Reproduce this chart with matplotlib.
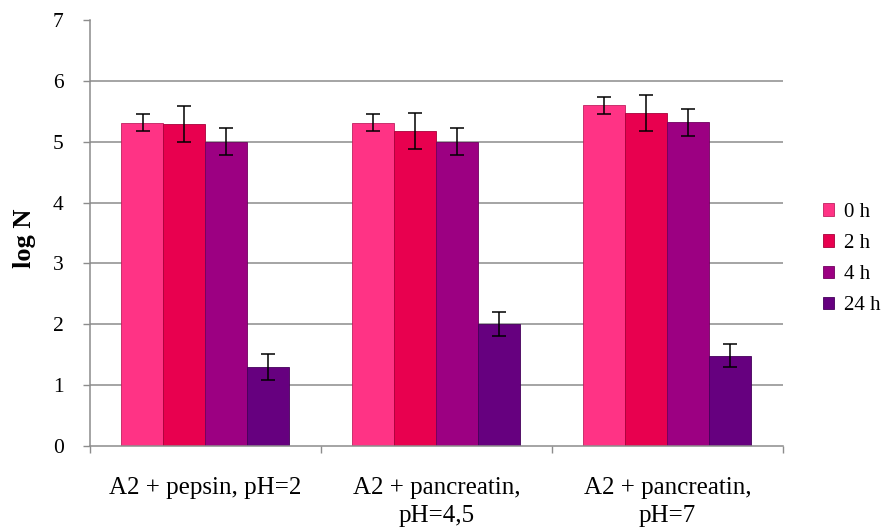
import matplotlib
matplotlib.use("Agg")
import matplotlib.pyplot as plt
import numpy as np

categories = ["A2 + pepsin, pH=2", "A2 + pancreatin,\npH=4,5", "A2 + pancreatin,\npH=7"]
series_names = ["0 h", "2 h", "4 h", "24 h"]
values = {
    "0 h": [5.31, 5.31, 5.60],
    "2 h": [5.29, 5.18, 5.47],
    "4 h": [5.00, 5.00, 5.32],
    "24 h": [1.30, 2.00, 1.48],
}
errors = {
    "0 h": [0.14, 0.14, 0.14],
    "2 h": [0.30, 0.30, 0.30],
    "4 h": [0.22, 0.22, 0.22],
    "24 h": [0.21, 0.20, 0.19],
}
colors = ["#FF3385", "#E8004F", "#9C0082", "#66007F"]
edges = ["#C0205F", "#A8003A", "#70005E", "#45005A"]
yticks = [0, 1, 2, 3, 4, 5, 6, 7]

plt.rcParams["font.family"] = ["Liberation Serif", "DejaVu Serif"]

fig = plt.figure(figsize=(8.92, 5.30), dpi=100)
ax = fig.add_axes([90/892, 1-446/530, (783-90)/892, (446-20)/530])

n = len(series_names)
gap = 1.5
w = 1.0 / (n + gap)
x = np.arange(len(categories))
for i, s in enumerate(series_names):
    pos = x - (n * w) / 2 + w * (i + 0.5)
    ax.bar(pos, values[s], width=w, color=colors[i], edgecolor=edges[i],
           linewidth=0.6, label=s, zorder=2)
    ax.errorbar(pos, values[s], yerr=errors[s], fmt="none", ecolor="black",
                elinewidth=1.1, capsize=5, capthick=1.1, zorder=3)

ax.set_xlim(-0.5, len(categories) - 0.5)
ax.set_ylim(0, 7)
ax.set_yticks(yticks)
ax.set_yticklabels([str(t) for t in yticks], fontsize=15.5)
for t in yticks[1:-1]:
    ax.axhline(t, color="#8c8c8c", linewidth=1.1, zorder=1)

ax.set_xticks(x)
ax.set_xticklabels(categories, fontsize=18, linespacing=1.4)
ax.tick_params(axis="x", which="major", length=0, pad=22)
ax.set_xticks(np.arange(len(categories) + 1) - 0.5, minor=True)
ax.tick_params(axis="x", which="minor", length=5, color="#8c8c8c", width=1)
ax.tick_params(axis="y", length=5, color="#8c8c8c", width=1, pad=14)

for sp in ["top", "right"]:
    ax.spines[sp].set_visible(False)
for sp in ["left", "bottom"]:
    ax.spines[sp].set_color("#8c8c8c")
    ax.spines[sp].set_linewidth(1.1)

fig.text(24/892, 1-238/530, "log N", rotation=90, fontsize=19, fontweight="bold",
         ha="center", va="center")

leg = fig.legend(loc="upper left", bbox_to_anchor=(823/892, 1-203/530),
                 frameon=False, fontsize=15, handlelength=0.55, handleheight=0.55,
                 labelspacing=0.58, handletextpad=0.45, borderpad=0, borderaxespad=0)

fig.savefig("out.png", dpi=100)
